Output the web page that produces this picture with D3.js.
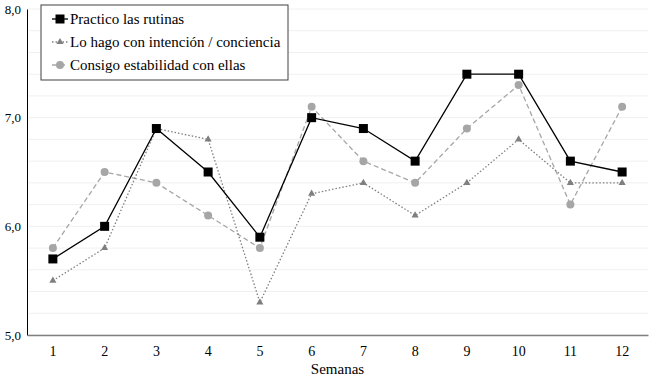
<!DOCTYPE html>
<html>
<head>
<meta charset="utf-8">
<script src="https://cdn.jsdelivr.net/npm/d3@7"></script>
<style>
  body { margin: 0; background: #fff; }
  svg text { font-family: "Liberation Serif", "Times New Roman", "DejaVu Serif", serif !important; }
</style>
</head>
<body>
<div id="chart"></div>
<script>
// Data
const semanas = ["1", "2", "3", "4", "5", "6", "7", "8", "9", "10", "11", "12"];
const practico = [5.7, 6.0, 6.9, 6.5, 5.9, 7.0, 6.9, 6.6, 7.4, 7.4, 6.6, 6.5];
const intencion = [5.5, 5.8, 6.9, 6.8, 5.3, 6.3, 6.4, 6.1, 6.4, 6.8, 6.4, 6.4];
const estabilidad = [5.8, 6.5, 6.4, 6.1, 5.8, 7.1, 6.6, 6.4, 6.9, 7.3, 6.2, 7.1];
const yTicks = [5, 6, 7, 8];
const gridTicks = d3.range(5, 8.01, 0.2);

const serif = "'Liberation Serif', 'Times New Roman', serif";

const series = [
    {name: "Practico las rutinas", values: practico, color: "#000000", dash: null, width: 1.3, shape: "square"},
    {name: "Lo hago con intención / conciencia", values: intencion, color: "#7f7f7f", dash: "1.5,2", width: 1.3, shape: "triangle"},
    {name: "Consigo estabilidad con ellas", values: estabilidad, color: "#a6a6a6", dash: "5,3", width: 1.3, shape: "circle"}
];

const margin = {top: 9, right: 2, bottom: 44, left: 27},
    width = 650 - margin.left - margin.right,
    height = 379 - margin.top - margin.bottom;

const svg = d3.select("#chart")
    .append("svg")
        .attr("width", 650)
        .attr("height", 379)
        .style("font-family", serif)
    .append("g")
        .attr("transform", "translate(" + margin.left + "," + margin.top + ")");

const x = d3.scaleBand().domain(semanas).range([0, width]);
const y = d3.scaleLinear().domain([5, 8]).range([height, 0]);

// gridlines
svg.append("g")
    .selectAll("line")
    .data(gridTicks)
    .join("line")
        .attr("x1", 0)
        .attr("x2", width)
        .attr("y1", d => y(d))
        .attr("y2", d => y(d))
        .attr("stroke", "#f0f0f0")
        .attr("stroke-width", 1);

// Y axis
svg.append("g")
    .call(d3.axisLeft(y).tickValues(yTicks).tickSize(0).tickPadding(6)
        .tickFormat(d => d3.format(".1f")(d).replace(".", ",")))
    .call(g => g.attr("font-family", null))
    .call(g => g.select(".domain").attr("stroke", "#000").attr("stroke-width", 1))
    .call(g => g.selectAll("text").style("font-family", serif).attr("font-size", 13).attr("fill", "#000"));

// X axis
svg.append("g")
    .attr("transform", "translate(0," + height + ")")
    .call(d3.axisBottom(x).tickSize(0).tickPadding(11))
    .call(g => g.attr("font-family", null))
    .call(g => g.select(".domain").attr("stroke", "#808080").attr("stroke-width", 1.5))
    .call(g => g.selectAll("text").style("font-family", serif).attr("font-size", 14).attr("fill", "#000"));

// X axis label
svg.append("text")
    .attr("x", width / 2)
    .attr("y", height + 39)
    .style("text-anchor", "middle")
    .style("font-family", serif)
    .style("font-size", "15px")
    .text("Semanas");

function drawMarker(g, shape, color, cx, cy) {
    if (shape === "square") {
        g.append("rect").attr("x", cx - 4.5).attr("y", cy - 4.5).attr("width", 9).attr("height", 9).attr("fill", color);
    } else if (shape === "triangle") {
        g.append("path").attr("d", d3.symbol(d3.symbolTriangle, 22)()).attr("transform", `translate(${cx},${cy})`).attr("fill", color);
    } else {
        g.append("circle").attr("cx", cx).attr("cy", cy).attr("r", 4).attr("fill", color);
    }
}

// Lines, drawn back to front
[2, 1, 0].forEach(function(i) {
    const s = series[i];
    const line = d3.line()
        .x((d, j) => x(semanas[j]) + x.bandwidth() / 2)
        .y(d => y(d));
    svg.append("path")
        .datum(s.values)
        .attr("fill", "none")
        .attr("stroke", s.color)
        .attr("stroke-width", s.width)
        .attr("stroke-dasharray", s.dash)
        .attr("d", line);
    const g = svg.append("g");
    s.values.forEach(function(v, j) {
        drawMarker(g, s.shape, s.color, x(semanas[j]) + x.bandwidth() / 2, y(v));
    });
});

// Legend
const legend = svg.append("g").attr("transform", "translate(14,-4)");
legend.append("rect")
    .attr("x", 0).attr("y", 0)
    .attr("width", 247).attr("height", 75)
    .attr("fill", "#fff")
    .attr("stroke", "#404040")
    .attr("stroke-width", 1);

series.forEach(function(s, index) {
    const ly = 14 + index * 23;
    legend.append("line")
        .attr("x1", 11).attr("x2", 27)
        .attr("y1", ly).attr("y2", ly)
        .attr("stroke", s.color)
        .attr("stroke-width", s.width)
        .attr("stroke-dasharray", s.dash);
    drawMarker(legend, s.shape, s.color, 19, ly);
    legend.append("text")
        .attr("x", 29)
        .attr("y", ly)
        .attr("dy", ".35em")
        .style("font-family", serif)
        .style("font-size", "15px")
        .text(s.name);
});
</script>
</body>
</html>
